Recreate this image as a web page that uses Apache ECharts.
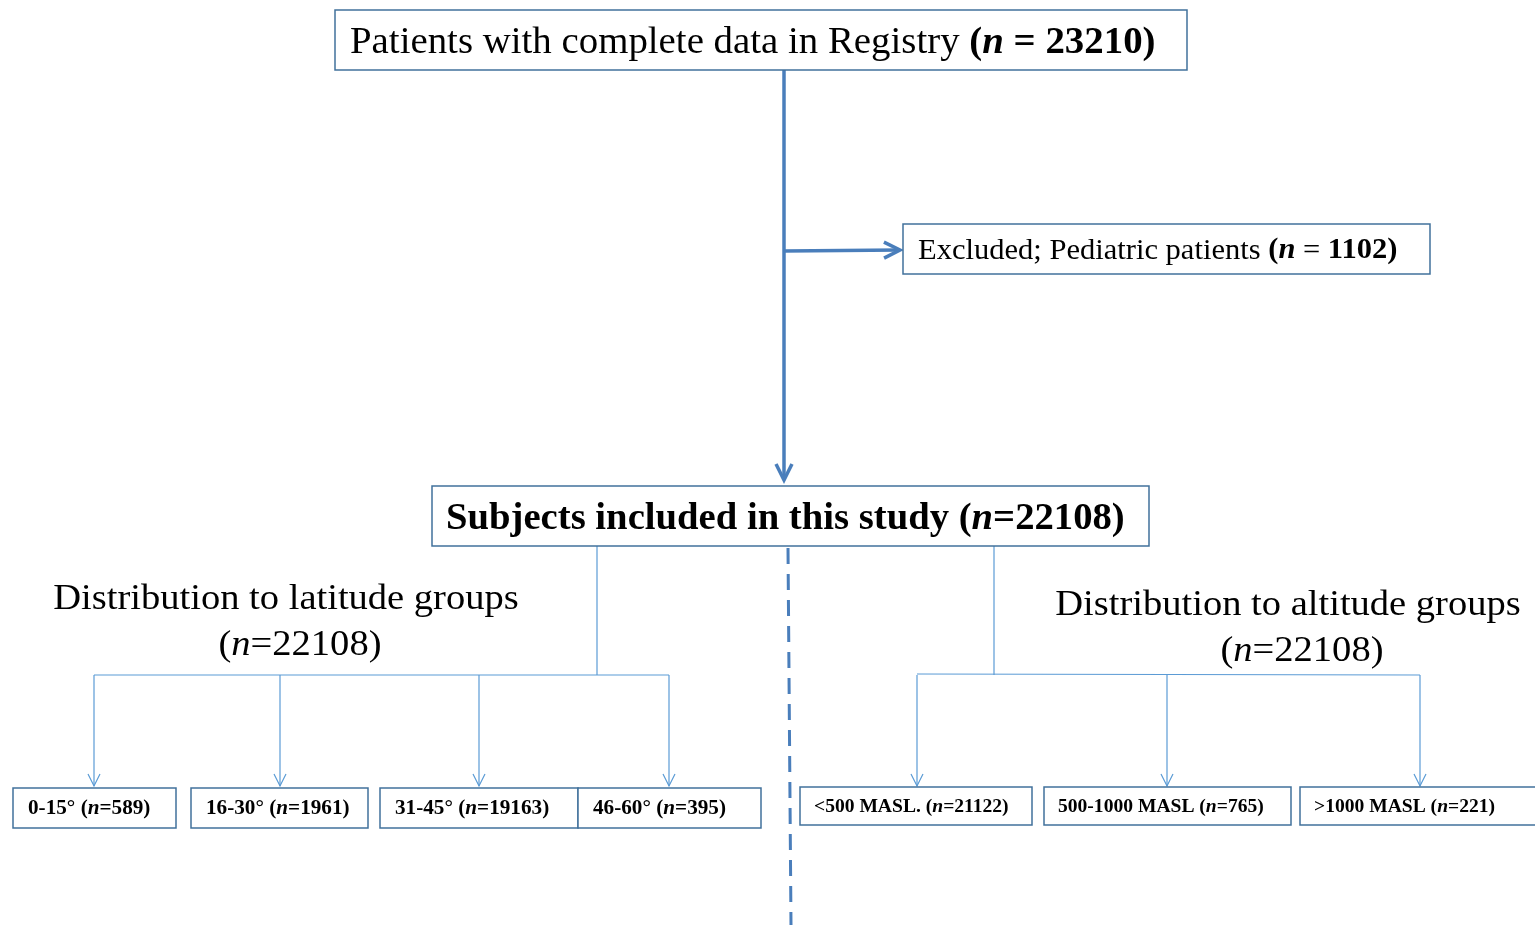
<!DOCTYPE html>
<html>
<head>
<meta charset="utf-8">
<script src="https://cdn.jsdelivr.net/npm/echarts@6/dist/echarts.min.js"></script>
<style>
html, body { margin: 0; padding: 0; background: #fff; }
#flowChart { width: 1535px; height: 925px; }
</style>
</head>
<body>
<div id="flowChart"></div>
<script>
// counts
var totalN = 23210;
var excludedN = 1102;
var includedN = 22108;
var latGroups = ['0-15°', '16-30°', '31-45°', '46-60°'];
var latN = [589, 1961, 19163, 395];
var altGroups = ['<500 MASL.', '500-1000 MASL', '>1000 MASL'];
var altN = [21122, 765, 221];

// layout, in the pixel space of the hidden axes
var latBoxX = [[13, 176], [191, 368], [380, 578], [578, 761]];
var latArrowX = [94, 280, 479, 669];
var altBoxX = [[800, 1032], [1044, 1291], [1300, 1545]];
var altArrowX = [917, 1167, 1420];

var SERIF = '"Liberation Serif", "Times New Roman", serif';
var THICK = '#4a7ebb', THIN = '#5b9bd5', BORDER = '#41719c';

function rs(size, weight, style) {
	return { fontFamily: SERIF, fontSize: size, fontWeight: weight || 'normal', fontStyle: style || 'normal', fill: '#000' };
}

var boxes = [];
boxes.push({
	x0: 335, y0: 10, x1: 1187, y1: 70, tx: 350, dy: 3, sx: 1.05,
	text: 'Patients with complete data in Registry {b|(}{i|n}{b| = ' + totalN + ')}',
	size: 37, rich: { b: rs(37, 'bold'), i: rs(37, 'bold', 'italic') }
});
boxes.push({
	x0: 903, y0: 224, x1: 1430, y1: 274, tx: 918, dy: 2, sx: 1.053,
	text: 'Excluded; Pediatric patients {b|(}{i|n}{n| = }{b|' + excludedN + ')}',
	size: 29, rich: { b: rs(29, 'bold'), i: rs(29, 'bold', 'italic'), n: rs(29) }
});
boxes.push({
	x0: 432, y0: 486, x1: 1149, y1: 546, tx: 446, dy: 3, sx: 1.018, weight: 'bold',
	text: 'Subjects included in this study ({i|n}=' + includedN + ')',
	size: 38, rich: { i: rs(38, 'bold', 'italic') }
});
latGroups.forEach(function (g, k) {
	boxes.push({
		x0: latBoxX[k][0], y0: 788, x1: latBoxX[k][1], y1: 828, tx: latBoxX[k][0] + 15, dy: 1, sx: 1.06, weight: 'bold',
		text: g + ' ({i|n}=' + latN[k] + ')',
		size: 20, rich: { i: rs(20, 'bold', 'italic') }
	});
});
altGroups.forEach(function (g, k) {
	boxes.push({
		x0: altBoxX[k][0], y0: 787, x1: altBoxX[k][1], y1: 825, tx: altBoxX[k][0] + 14, dy: 1, sx: 1.03, weight: 'bold',
		text: g + ' ({i|n}=' + altN[k] + ')',
		size: 19, rich: { i: rs(19, 'bold', 'italic') }
	});
});

var labels = [
	{ x: 286, y: 600, text: 'Distribution to latitude groups' },
	{ x: 300, y: 646, text: '({i|n}=' + includedN + ')' },
	{ x: 1288, y: 606, text: 'Distribution to altitude groups' },
	{ x: 1302, y: 652, text: '({i|n}=' + includedN + ')' }
];

// connectors: polyline points, arrow at last point or not
var links = [
	{ pts: [[784, 70], [784, 480]], arrow: 'thick', w: 3.5, c: THICK },
	{ pts: [[784, 251], [900, 250]], arrow: 'thick', w: 3.5, c: THICK },
	{ pts: [[597, 546], [597, 675]], w: 1.2, c: THIN },
	{ pts: [[94, 675], [669, 675]], w: 1.2, c: THIN },
	{ pts: [[994, 546], [994, 675]], w: 1.2, c: THIN },
	{ pts: [[917, 674], [1420, 675]], w: 1.2, c: THIN },
	{ pts: [[788, 548], [791, 925]], w: 3, c: THICK, dash: [16, 10] }
];
latArrowX.forEach(function (x) { links.push({ pts: [[x, 675], [x, 786]], arrow: 'thin', w: 1.2, c: THIN }); });
altArrowX.forEach(function (x) { links.push({ pts: [[x, 675], [x, 786]], arrow: 'thin', w: 1.2, c: THIN }); });

function renderBox(params, api) {
	var b = boxes[params.dataIndex];
	var p0 = api.coord([b.x0, b.y0]), p1 = api.coord([b.x1, b.y1]);
	var t = api.coord([b.tx, (b.y0 + b.y1) / 2 + (b.dy || 0)]);
	return {
		type: 'group',
		children: [{
			type: 'rect',
			shape: { x: p0[0], y: p0[1], width: p1[0] - p0[0], height: p1[1] - p0[1] },
			style: { fill: '#fff', stroke: BORDER, lineWidth: 1.5 }
		}, {
			type: 'text',
			x: t[0], y: t[1], scaleX: b.sx || 1,
			style: {
				x: 0, y: 0, text: b.text, rich: b.rich,
				fontFamily: SERIF, fontSize: b.size, fontWeight: b.weight || 'normal',
				fill: '#000', align: 'left', verticalAlign: 'middle'
			}
		}]
	};
}

function renderLabel(params, api) {
	var l = labels[params.dataIndex];
	var p = api.coord([l.x, l.y]);
	return {
		type: 'text',
		x: p[0], y: p[1], scaleX: 1.07,
		style: {
			x: 0, y: 0, text: l.text, rich: { i: rs(36, 'normal', 'italic') },
			fontFamily: SERIF, fontSize: 36, fill: '#000', align: 'center', verticalAlign: 'middle'
		}
	};
}

function renderLink(params, api) {
	var l = links[params.dataIndex];
	var pts = l.pts.map(function (p) { return api.coord(p); });
	var children = [{
		type: 'polyline',
		shape: { points: pts },
		style: { stroke: l.c, lineWidth: l.w, fill: null, lineDash: l.dash || null }
	}];
	if (l.arrow) {
		var a = pts[pts.length - 2], b = pts[pts.length - 1];
		var ang = Math.atan2(b[1] - a[1], b[0] - a[0]);
		var len = l.arrow === 'thick' ? 16 : 12, half = l.arrow === 'thick' ? 8 : 6;
		var off = function (d, s) {
			return [b[0] - Math.cos(ang) * d - Math.sin(ang) * s, b[1] - Math.sin(ang) * d + Math.cos(ang) * s];
		};
		children.push({
			type: 'polyline',
			shape: { points: [off(len, -half), b, off(len, half)] },
			style: { stroke: l.c, lineWidth: l.w, fill: null, lineJoin: 'miter' }
		});
	}
	return { type: 'group', children: children };
}

var flowChart = echarts.init(document.getElementById('flowChart'));
var option = {
	animation: false,
	grid: { left: 0, right: 0, top: 0, bottom: 0 },
	xAxis: { type: 'value', min: 0, max: 1535, show: false },
	yAxis: { type: 'value', min: 0, max: 925, inverse: true, show: false },
	series: [{
		type: 'custom',
		renderItem: renderLink,
		clip: false,
		data: links.map(function (l) { return [l.pts[0][0], l.pts[0][1]]; }),
		z: 1
	}, {
		type: 'custom',
		renderItem: renderBox,
		clip: false,
		encode: { x: [0, 2], y: [1, 3] },
		data: boxes.map(function (b) { return [b.x0, b.y0, b.x1, b.y1]; }),
		z: 2
	}, {
		type: 'custom',
		renderItem: renderLabel,
		clip: false,
		data: labels.map(function (l) { return [l.x, l.y]; }),
		z: 3
	}]
};
flowChart.setOption(option);
</script>
</body>
</html>
